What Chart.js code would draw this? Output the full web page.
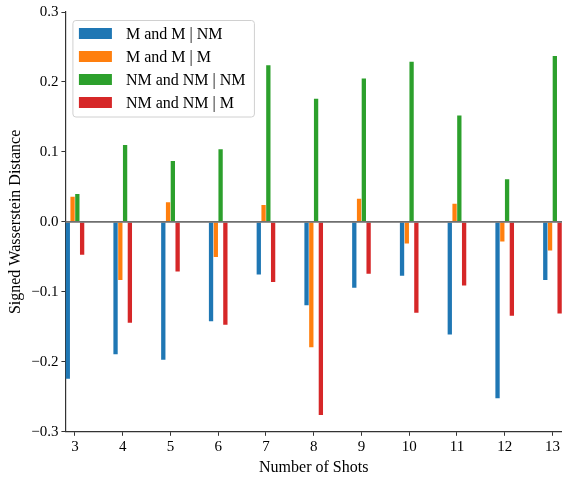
<!DOCTYPE html>
<html>
<head>
<meta charset="utf-8">
<script src="https://cdn.jsdelivr.net/npm/chart.js@4.4.1/dist/chart.umd.min.js"></script>
<style>
  html, body { margin: 0; padding: 0; background: #fff; }
  #wrap { width: 562px; height: 478px; }
</style>
</head>
<body>
<div id="wrap"><canvas id="barChart"></canvas></div>
<script>
// number of shots on the x axis
var shots = [3, 4, 5, 6, 7, 8, 9, 10, 11, 12, 13]

// signed wasserstein distance, one array per series
var mAndMgivenNM = [-0.224, -0.189, -0.197, -0.142, -0.075, -0.119, -0.094, -0.077, -0.161, -0.252, -0.083]
var mAndMgivenM = [0.036, -0.083, 0.028, -0.050, 0.024, -0.179, 0.033, -0.031, 0.026, -0.028, -0.041]
var nmAndNMgivenNM = [0.040, 0.110, 0.087, 0.104, 0.224, 0.176, 0.205, 0.229, 0.152, 0.061, 0.237]
var nmAndNMgivenM = [-0.047, -0.144, -0.071, -0.147, -0.086, -0.276, -0.074, -0.130, -0.091, -0.134, -0.131]

var seriesLabels = ['M and M | NM', 'M and M | M', 'NM and NM | NM', 'NM and NM | M']
var seriesColors = ['#1f77b4', '#ff7f0e', '#2ca02c', '#d62728']
var yTicks = [-0.3, -0.2, -0.1, 0.0, 0.1, 0.2, 0.3]

var FONT = 'Liberation Serif, Times New Roman, serif'

function toPoints(values) {
    return values.map(function (v, i) { return { x: shots[i], y: v } })
}

var allSeries = [mAndMgivenNM, mAndMgivenM, nmAndNMgivenNM, nmAndNMgivenM]
var datasets = allSeries.map(function (vals, i) {
    return {
        label: seriesLabels[i],
        data: toPoints(vals),
        backgroundColor: seriesColors[i],
        categoryPercentage: 0.4,
        barPercentage: 0.9
    }
})

// horizontal line at zero, drawn over the bars
var zeroLine = {
    id: 'zeroLine',
    afterDatasetsDraw: function (chart) {
        var ctx = chart.ctx
        var y = chart.scales.y.getPixelForValue(0)
        var area = chart.chartArea
        ctx.save()
        ctx.strokeStyle = '#6f6f6f'
        ctx.lineWidth = 1.6
        ctx.beginPath()
        ctx.moveTo(area.left, y)
        ctx.lineTo(area.right, y)
        ctx.stroke()
        ctx.restore()
    }
}

// matplotlib style legend box in the upper left
var boxLegend = {
    id: 'boxLegend',
    afterDraw: function (chart) {
        var ctx = chart.ctx
        var area = chart.chartArea
        var x0 = area.left + 7.5
        var y0 = area.top + 8.5
        var w = 181.5
        var h = 96.5
        var r = 3
        ctx.save()
        ctx.beginPath()
        ctx.moveTo(x0 + r, y0)
        ctx.arcTo(x0 + w, y0, x0 + w, y0 + h, r)
        ctx.arcTo(x0 + w, y0 + h, x0, y0 + h, r)
        ctx.arcTo(x0, y0 + h, x0, y0, r)
        ctx.arcTo(x0, y0, x0 + w, y0, r)
        ctx.closePath()
        ctx.fillStyle = 'rgba(255,255,255,0.8)'
        ctx.fill()
        ctx.strokeStyle = '#d0d0d0'
        ctx.lineWidth = 1
        ctx.stroke()

        ctx.font = '16px ' + FONT
        ctx.textBaseline = 'middle'
        ctx.textAlign = 'left'
        chart.data.datasets.forEach(function (ds, i) {
            var cy = y0 + 13 + i * 23
            ctx.fillStyle = ds.backgroundColor
            ctx.fillRect(x0 + 6, cy - 5.5, 33, 11)
            ctx.fillStyle = '#000'
            ctx.fillText(ds.label, x0 + 53, cy + 1)
        })
        ctx.restore()
    }
}

var barCanvas = document.getElementById('barChart').getContext('2d')
new Chart(barCanvas, {
    type: 'bar',
    data: { datasets: datasets },
    options: {
        responsive: true,
        maintainAspectRatio: false,
        animation: false,
        layout: { padding: { left: 6, right: 0, top: 0, bottom: 1 } },
        plugins: {
            legend: { display: false },
            tooltip: { enabled: false }
        },
        scales: {
            x: {
                type: 'linear',
                min: 2.8,
                max: 13.2,
                offset: false,
                afterBuildTicks: function (axis) {
                    axis.ticks = shots.map(function (v) { return { value: v } })
                },
                grid: { display: true, offset: false, drawOnChartArea: false, drawTicks: true, tickLength: 4, tickColor: '#333' },
                border: { display: true, color: '#333', width: 1.2 },
                ticks: {
                    color: '#000',
                    font: { family: FONT, size: 15 },
                    padding: 2,
                    maxRotation: 0,
                    autoSkip: false
                },
                title: {
                    display: true,
                    text: 'Number of Shots',
                    color: '#000',
                    font: { family: FONT, size: 16 },
                    padding: { top: 0, bottom: 0 }
                }
            },
            y: {
                min: -0.3,
                max: 0.3,
                afterBuildTicks: function (axis) {
                    axis.ticks = yTicks.map(function (v) { return { value: v } })
                },
                grid: { display: true, drawOnChartArea: false, drawTicks: true, tickLength: 4, tickColor: '#333' },
                border: { display: true, color: '#333', width: 1.2 },
                ticks: {
                    color: '#000',
                    font: { family: FONT, size: 15 },
                    padding: 3,
                    callback: function (v) {
                        if (Math.abs(v) < 1e-9) return '0.0'
                        var s = Math.abs(v).toFixed(1)
                        return v < 0 ? '\u2212' + s : s
                    }
                },
                title: {
                    display: true,
                    text: 'Signed Wasserstein Distance',
                    color: '#000',
                    font: { family: FONT, size: 16 },
                    padding: { top: 0, bottom: 3 }
                }
            }
        }
    },
    plugins: [zeroLine, boxLegend]
})
</script>
</body>
</html>
